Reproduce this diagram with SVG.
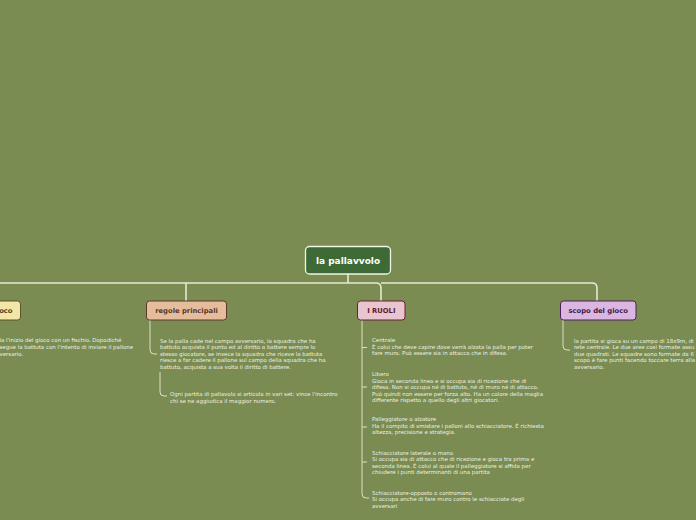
<svg xmlns="http://www.w3.org/2000/svg" width="696" height="520" viewBox="0 0 696 520">
<style>
.bg{fill:#7a8c52}
.main{fill:none;stroke:#e6e9d4;stroke-width:1.6}
.sub{fill:none;stroke:#e6e9d4;stroke-width:0.9}
.t{font-family:"DejaVu Sans",Verdana,sans-serif;font-size:5.45px;fill:#eef0e2}
.nt{font-family:"DejaVu Sans",Verdana,sans-serif;font-weight:bold;font-size:6.8px;text-anchor:middle}
</style>
<rect class="bg" x="0" y="0" width="696" height="520"/>
<g id="connectors">
<path class="main" d="M348,274 V283"/>
<path class="main" d="M-10,283 H376 Q381,283 381,288 V301"/>
<path class="main" d="M381,283 H592 Q597,283 597,288 V301"/>
<path class="main" d="M186,283 V301"/>
<path class="sub" d="M150,320 V350 Q150,354 154,354 H157"/>
<path class="sub" d="M160,372 V392 Q160,396 164,396 H167"/>
<path class="sub" d="M362,320 V494 Q362,498 366,498 H369"/>
<path class="sub" d="M362,347.5 H367 M362,387 H367 M362,427 H367 M362,462 H367"/>
<path class="sub" d="M563,320 V346 Q563,350 567,350 H570"/>
</g>
<g id="root">
<rect x="305.5" y="246.5" width="85" height="27.5" rx="4" fill="#3e6a35" stroke="#f2f4ea" stroke-width="1.3"/>
<text x="348" y="264" font-family="DejaVu Sans,Verdana,sans-serif" font-weight="bold" font-size="9" fill="#ffffff" text-anchor="middle">la pallavvolo</text>
</g>
<g id="node-gioco">
<rect x="-20" y="301" width="40.5" height="19" rx="3" fill="#f3e6a9" stroke="#5e5228" stroke-width="1"/>
<text x="12.5" y="313" font-family="DejaVu Sans,Verdana,sans-serif" font-weight="bold" font-size="6.8" fill="#4a3e1a" text-anchor="end">oco</text>
</g>
<g id="text-gioco">
<text class="t" x="-0.5" y="342.3">la l'inizio del gioco con un fischio. Dopodiché</text>
<text class="t" x="-0.5" y="349">segue la battuta con l'intento di inviare il pallone</text>
<text class="t" x="-0.5" y="355.7">versario.</text>
</g>
<g id="node-regole">
<rect x="146.5" y="301" width="80" height="19" rx="3" fill="#e6bd9c" stroke="#5a3a2a" stroke-width="1"/>
<text class="nt" x="186.5" y="313" fill="#5a3525">regole principali</text>
</g>
<g id="text-regole-1">
<text class="t" x="160" y="342.5">Se la palla cade nel campo avversario, la squadra che ha</text>
<text class="t" x="160" y="349">battuto acquista il punto ed al diritto a battere sempre lo</text>
<text class="t" x="160" y="355.5">stesso giocatore, se invece la squadra che riceve la battuta</text>
<text class="t" x="160" y="362">riesce a far cadere il pallone sul campo della squadra che ha</text>
<text class="t" x="160" y="368.5">battuto, acquista a sua volta il diritto di battere.</text>
</g>
<g id="text-regole-2">
<text class="t" x="170" y="396.3">Ogni partita di pallavolo si articola in vari set: vince l'incontro</text>
<text class="t" x="170" y="402.8">chi se ne aggiudica il maggior numero.</text>
</g>
<g id="node-ruoli">
<rect x="357.5" y="301" width="47.5" height="19" rx="3" fill="#e8c5cf" stroke="#6b1f35" stroke-width="1"/>
<text class="nt" x="381.3" y="313" fill="#5c1a2e">I RUOLI</text>
</g>
<g id="text-centrale">
<text class="t" x="372" y="342.3">Centrale</text>
<text class="t" x="372" y="348.8">È colui che deve capire dove verrà alzata la palla per poter</text>
<text class="t" x="372" y="355.3">fare muro. Può essere sia in attacco che in difesa.</text>
</g>
<g id="text-libero">
<text class="t" x="372" y="376.2">Libero</text>
<text class="t" x="372" y="382.7">Gioca in seconda linea e si occupa sia di ricezione che di</text>
<text class="t" x="372" y="389.2">difesa. Non si occupa né di battuta, né di muro né di attacco.</text>
<text class="t" x="372" y="395.7">Può quindi non essere per forza alto. Ha un colore della maglia</text>
<text class="t" x="372" y="402.2">differente rispetto a quello degli altri giocatori.</text>
</g>
<g id="text-palleggiatore">
<text class="t" x="372" y="421">Palleggiatore o alzatore</text>
<text class="t" x="372" y="427.5">Ha il compito di smistare i palloni allo schiacciatore. È richiesta</text>
<text class="t" x="372" y="434">altezza, precisione e strategia.</text>
</g>
<g id="text-schiacciatore">
<text class="t" x="372" y="454.5">Schiacciatore laterale o mano</text>
<text class="t" x="372" y="461">Si occupa sia di attacco che di ricezione e gioca tra prima e</text>
<text class="t" x="372" y="467.5">seconda linea. È colui al quale il palleggiatore si affida per</text>
<text class="t" x="372" y="474">chiudere i punti determinanti di una partita</text>
</g>
<g id="text-opposto">
<text class="t" x="372" y="494.8">Schiacciatore-opposto o contromano</text>
<text class="t" x="372" y="501.3">Si occupa anche di fare muro contro le schiacciate degli</text>
<text class="t" x="372" y="507.8">avversari</text>
</g>
<g id="node-scopo">
<rect x="560.5" y="301" width="75.5" height="19" rx="3" fill="#dcb6e2" stroke="#4a2356" stroke-width="1"/>
<text class="nt" x="598.2" y="313" fill="#3a1a45">scopo del gioco</text>
</g>
<g id="text-scopo">
<text class="t" x="574" y="342.8">la partita si gioca su un campo di 18x9m, di</text>
<text class="t" x="574" y="349.3">rete centrale. Le due aree così formate assu</text>
<text class="t" x="574" y="355.8">due quadrati. Le squadre sono formate da 6</text>
<text class="t" x="574" y="362.3">scopo è fare punti facendo toccare terra alla</text>
<text class="t" x="574" y="368.8">avversario.</text>
</g>
</svg>
